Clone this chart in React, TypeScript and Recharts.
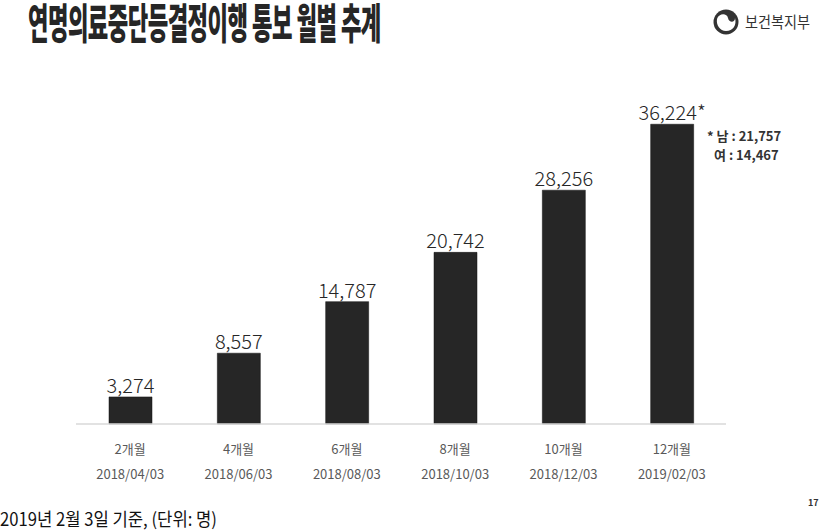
import React from "react";
import { BarChart, Bar, XAxis, YAxis, LabelList } from "recharts";

const periods = ["2개월", "4개월", "6개월", "8개월", "10개월", "12개월"];
const dates = ["2018/04/03", "2018/06/03", "2018/08/03", "2018/10/03", "2018/12/03", "2019/02/03"];
const counts = [3274, 8557, 14787, 20742, 28256, 36224];
const genderNotes = ["* 남 : 21,757", "여 : 14,467"];

const data = periods.map((p, i) => ({ period: p, date: dates[i], count: counts[i] }));

const FONT = '"Noto Sans CJK KR", "Noto Sans", sans-serif';

function Tick(props: any) {
  const { x, y, payload, index } = props;
  return (
    <g transform={`translate(${x},${y})`}>
      <text x={0} y={22} textAnchor="middle" fill="#595959" fontSize={13} fontFamily={FONT}>
        {payload.value}
      </text>
      <text x={0} y={47} textAnchor="middle" fill="#595959" fontSize={13} fontFamily={FONT}>
        {dates[index]}
      </text>
    </g>
  );
}

function ValueLabel(props: any) {
  const { x, y, width, value, index } = props;
  const star = index === counts.length - 1 ? "*" : "";
  return (
    <text
      x={x + width / 2}
      y={y - 4}
      textAnchor="middle"
      fill="#262626"
      fontSize={20}
      fontWeight={300}
      fontFamily={FONT}
    >
      {value.toLocaleString("en-US") + star}
    </text>
  );
}

export default function App() {
  return (
    <div style={{ position: "absolute", left: 0, top: 0, width: 827, height: 532, background: "#fff", overflow: "hidden", fontFamily: FONT }}>
      <svg style={{ position: "absolute", left: 0, top: 0 }} width={827} height={532}>
        <text
          transform="translate(28,39) scale(0.53,1)"
          x={0}
          y={0}
          fontSize={42}
          fontWeight={900}
          fill="#262626"
          fontFamily={FONT}
          letterSpacing={-1}
        >
          연명의료중단등결정이행 통보 월별 추계
        </text>
        <text x={0} y={526} fontSize={18} fill="#111" fontFamily={FONT} textLength={217} lengthAdjust="spacingAndGlyphs">
          2019년 2월 3일 기준, (단위: 명)
        </text>
        <circle cx={726} cy={22} r={12.5} fill="#333" />
        <path
          d="M717 19 C719 13 727 13 728 18 C729 23 735 23 735 18 C737 25 733 31 726 31 C720 31 716 25 717 19 Z"
          fill="#fff"
        />
        <text x={745} y={28} fontSize={16} fill="#333" fontFamily={FONT} textLength={65} lengthAdjust="spacingAndGlyphs">
          보건복지부
        </text>
        <text x={808} y={506} fontSize={9} fontWeight={700} fill="#333" fontFamily={FONT}>
          17
        </text>
      </svg>
      <BarChart
        width={827}
        height={532}
        data={data}
        margin={{ top: 93, right: 101, bottom: 78, left: 76 }}
        style={{ position: "absolute", left: 0, top: 0 }}
      >
        <XAxis
          dataKey="period"
          tick={<Tick />}
          tickLine={false}
          axisLine={{ stroke: "#d9d9d9", strokeWidth: 1.5 }}
          interval={0}
        />
        <YAxis hide domain={[0, 40000]} />
        <Bar dataKey="count" fill="#262626" stroke="#111" strokeWidth={0.5} barSize={43} isAnimationActive={false}>
          <LabelList dataKey="count" content={<ValueLabel />} />
        </Bar>
      </BarChart>
      <div style={{ position: "absolute", left: 707, top: 126, fontSize: 13, fontWeight: 700, color: "#333", lineHeight: "19px", whiteSpace: "nowrap" }}>
        <div>{genderNotes[0]}</div>
        <div style={{ paddingLeft: 7 }}>{genderNotes[1]}</div>
      </div>
    </div>
  );
}
